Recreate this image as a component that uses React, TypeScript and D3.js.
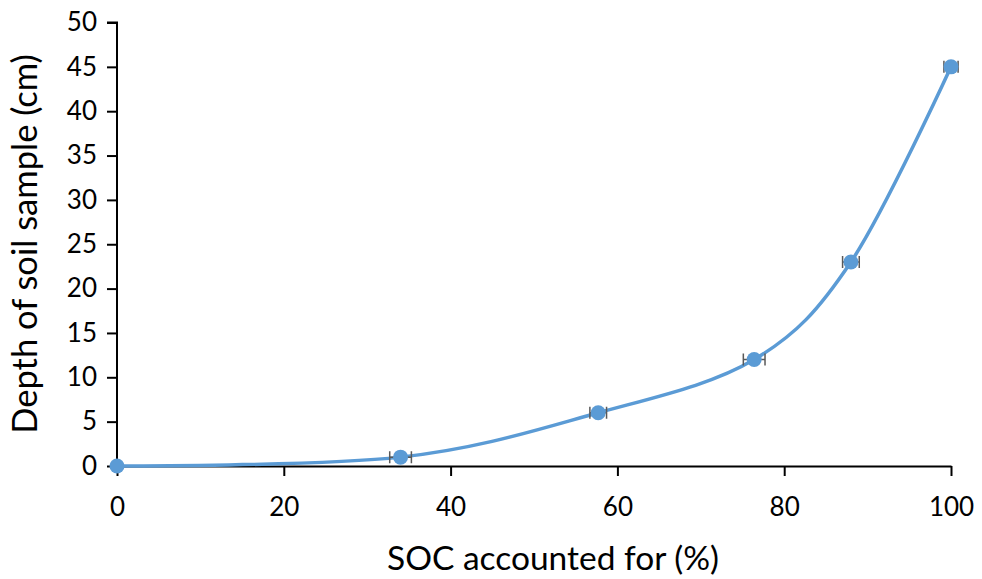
import React, { useRef, useEffect } from 'react';
import * as d3 from 'd3';

// SOC accounted for (%) vs depth (cm)
const socPercent = [0, 34, 57.7, 76.4, 88, 100];
const depthCm = [0, 1, 6, 12, 23, 45];
const socError = [0, 1.3, 1.0, 1.3, 1.0, 0.85];
const xTicks = [0, 20, 40, 60, 80, 100];
const yTicks = [0, 5, 10, 15, 20, 25, 30, 35, 40, 45, 50];

const width = 982;
const height = 579;
const font = 'Lato, "Noto Sans", sans-serif';

const App = () => {
  const svgRef = useRef<SVGSVGElement | null>(null);

  useEffect(() => {
    if (!svgRef.current) return;
    const root = d3.select(svgRef.current);
    root.selectAll('*').remove();

    const x = d3.scaleLinear().domain([0, 100]).range([117, 951]);
    const y = d3.scaleLinear().domain([0, 50]).range([466, 22.5]);

    const data = socPercent.map((v, i) => ({ x: v, y: depthCm[i], err: socError[i] }));

    // axes
    const yAxis = root.append('g')
      .attr('transform', `translate(${x(0)},0)`)
      .call(d3.axisLeft(y).tickValues(yTicks).tickSize(10).tickPadding(10).tickFormat(d3.format('d')));
    const xAxis = root.append('g')
      .attr('transform', `translate(0,${y(0)})`)
      .call(d3.axisBottom(x).tickValues(xTicks).tickSize(10).tickSizeOuter(0).tickPadding(22).tickFormat(d3.format('d')));

    [xAxis, yAxis].forEach(a => {
      a.select('.domain').attr('stroke', '#000').attr('stroke-width', 2);
      a.selectAll('.tick line').attr('stroke', '#000').attr('stroke-width', 2);
      a.selectAll('.tick text').attr('fill', '#000').style('font-family', font).style('font-size', '26px');
    });
    yAxis.select('.domain').attr('d', `M-10,${y(50)}H0V${y(0)}`);

    // smoothed line
    const line = d3.line<{ x: number; y: number }>()
      .x(d => x(d.x))
      .y(d => y(d.y))
      .curve(d3.curveCardinal.tension(0));

    root.append('path')
      .datum(data)
      .attr('fill', 'none')
      .attr('stroke', '#5b9bd5')
      .attr('stroke-width', 3.5)
      .attr('d', line);

    // error bars
    const eb = root.append('g').attr('stroke', '#595959').attr('stroke-width', 1.5).attr('fill', 'none');
    data.filter(d => d.err > 0).forEach(d => {
      const x0 = x(d.x - d.err);
      const x1 = x(d.x + d.err);
      const cy = y(d.y);
      eb.append('path').attr('d', `M${x0},${cy}H${x1}M${x0},${cy - 6}V${cy + 6}M${x1},${cy - 6}V${cy + 6}`);
    });

    // markers
    root.append('g')
      .selectAll('circle')
      .data(data)
      .enter()
      .append('circle')
      .attr('cx', d => x(d.x))
      .attr('cy', d => y(d.y))
      .attr('r', 7.5)
      .attr('fill', '#5b9bd5');

    // titles
    root.append('text')
      .attr('x', 553)
      .attr('y', 570)
      .attr('text-anchor', 'middle')
      .style('font-family', font)
      .style('font-size', '33.5px')
      .text('SOC accounted for (%)');

    root.append('text')
      .attr('transform', `translate(37,${244}) rotate(-90)`)
      .attr('text-anchor', 'middle')
      .style('font-family', font)
      .style('font-size', '34.5px')
      .text('Depth of soil sample (cm)');
  }, []);

  return (
    <svg ref={svgRef} width={width} height={height}
      style={{ position: 'absolute', left: 0, top: 0, background: '#fff' }} />
  );
};

export default App;
